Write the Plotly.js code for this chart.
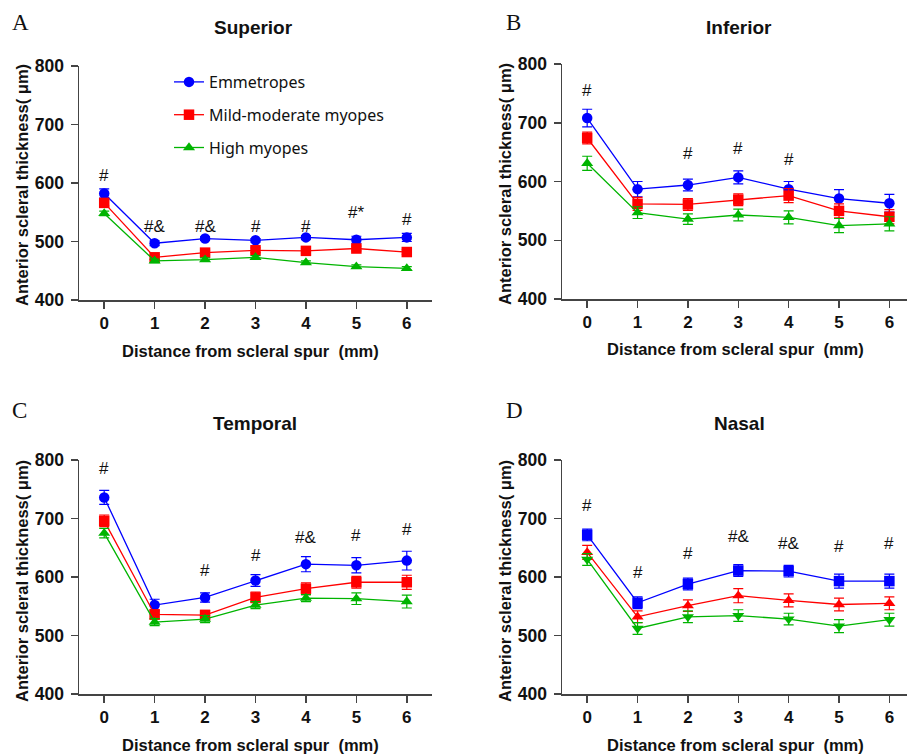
<!DOCTYPE html>
<html><head><meta charset="utf-8">
<script src="https://cdn.plot.ly/plotly-3.0.1.min.js"></script>
<style>body{margin:0;background:#fff}#plot{width:907px;height:755px}</style>
</head><body><div id="plot"></div>
<script>
// ---- data ----
const distance = [0, 1, 2, 3, 4, 5, 6];
const groupNames = ['Emmetropes', 'Mild-moderate myopes', 'High myopes'];

// Superior (A)
const supEmm = [582, 497, 505, 502, 507, 503, 507];
const supEmmErr = [8, 4, 3, 3, 3, 6, 7];
const supMild = [566, 473, 481, 485, 484, 488, 482];
const supMildErr = [5, 4, 4, 4, 4, 4, 4];
const supHigh = [548, 467, 469, 473, 464, 457, 454];
const supHighErr = [4, 3, 3, 3, 3, 3, 3];
const supSig = ['#', '#&', '#&', '#', '#', '#*', '#'];
const supSigY = [613, 525, 525, 525, 525, 550, 538];

// Inferior (B)
const infEmm = [708, 587, 594, 607, 587, 571, 563];
const infEmmErr = [15, 13, 10, 11, 13, 15, 15];
const infMild = [674, 562, 561, 569, 576, 550, 540];
const infMildErr = [10, 11, 10, 10, 12, 12, 12];
const infHigh = [631, 547, 536, 543, 539, 525, 528];
const infHighErr = [12, 10, 9, 10, 11, 12, 12];
const infSig = ['#', '', '#', '#', '#', '', ''];
const infSigY = [755, null, 647, 657, 638, null, null];

// Temporal (C)
const temEmm = [736, 552, 565, 594, 622, 620, 628];
const temEmmErr = [12, 10, 8, 10, 13, 13, 16];
const temMild = [696, 536, 535, 565, 580, 591, 591];
const temMildErr = [10, 8, 8, 9, 10, 10, 12];
const temHigh = [675, 523, 528, 552, 564, 563, 558];
const temHighErr = [8, 6, 6, 6, 6, 10, 11];
const temSig = ['#', '', '#', '#', '#&', '#', '#'];
const temSigY = [786, null, 611, 637, 668, 671, 682];

// Nasal (D)
const nasEmm = [672, 556, 588, 611, 610, 593, 593];
const nasEmmErr = [10, 10, 10, 10, 10, 12, 12];
const nasMild = [642, 532, 551, 568, 560, 553, 555];
const nasMildErr = [12, 10, 10, 12, 11, 11, 11];
const nasHigh = [630, 512, 532, 534, 528, 516, 527];
const nasHighErr = [10, 10, 10, 10, 10, 11, 11];
const nasSig = ['#', '#', '#', '#&', '#&', '#', '#'];
const nasSigY = [722, 608, 640, 670, 657, 652, 657];

const yTicks = [400, 500, 600, 700, 800];

// ---- styling ----
const colors = ['#0000ff', '#ff0000', '#00b400'];
const sans = 'Liberation Sans, Arial, sans-serif';
const axisColor = '#444';

function tr(y, err, gi, sym, xa, ya, show) {
  return {
    x: distance, y: y, type: 'scatter', mode: 'lines+markers',
    name: groupNames[gi], legendgroup: 'g' + gi, showlegend: show,
    xaxis: xa, yaxis: ya,
    line: {color: colors[gi], width: 1.3},
    marker: {color: colors[gi], symbol: sym, size: 10.5},
    error_y: {type: 'data', array: err, visible: true, color: colors[gi], thickness: 1.2, width: 5}
  };
}

const data = [
  tr(supEmm, supEmmErr, 0, 'circle', 'x', 'y', true),
  tr(supMild, supMildErr, 1, 'square', 'x', 'y', true),
  tr(supHigh, supHighErr, 2, 'triangle-up', 'x', 'y', true),
  tr(infEmm, infEmmErr, 0, 'circle', 'x2', 'y2', false),
  tr(infMild, infMildErr, 1, 'square', 'x2', 'y2', false),
  tr(infHigh, infHighErr, 2, 'triangle-up', 'x2', 'y2', false),
  tr(temEmm, temEmmErr, 0, 'circle', 'x3', 'y3', false),
  tr(temMild, temMildErr, 1, 'square', 'x3', 'y3', false),
  tr(temHigh, temHighErr, 2, 'triangle-up', 'x3', 'y3', false),
  tr(nasEmm, nasEmmErr, 0, 'square', 'x4', 'y4', false),
  tr(nasMild, nasMildErr, 1, 'triangle-up', 'x4', 'y4', false),
  tr(nasHigh, nasHighErr, 2, 'triangle-down', 'x4', 'y4', false)
];

const W = 907, H = 755;
function px(a, b) { return [a / W, b / W]; }
function py(top, bottom) { return [1 - bottom / H, 1 - top / H]; }

function xax(domain, range, anchor) {
  return {
    domain: domain, range: range, anchor: anchor,
    tickvals: distance, ticktext: distance.map(String),
    showgrid: false, zeroline: false, showline: true, linecolor: axisColor, linewidth: 1.5,
    ticks: 'outside', ticklen: 7, tickwidth: 1.5, tickcolor: axisColor,
    tickfont: {family: sans, size: 17, color: '#111', weight: 'bold'}
  };
}
function yax(domain, anchor) {
  return {
    domain: domain, range: [400, 800], anchor: anchor,
    tickvals: yTicks, ticktext: yTicks.map(String),
    showgrid: false, zeroline: false, showline: true, linecolor: axisColor, linewidth: 1.5,
    ticks: 'outside', ticklen: 7, tickwidth: 1.5, tickcolor: axisColor,
    ticklabelstandoff: 3,
    tickfont: {family: sans, size: 17.5, color: '#111', weight: 'bold'}
  };
}

const annotations = [];
function sig(labels, ys, xr, yr) {
  labels.forEach((t, i) => {
    if (!t) return;
    annotations.push({x: distance[i], y: ys[i], xref: xr, yref: yr, text: t, showarrow: false,
      font: {family: sans, size: 17, color: '#111'}});
  });
}
sig(supSig, supSigY, 'x', 'y');
sig(infSig, infSigY, 'x2', 'y2');
sig(temSig, temSigY, 'x3', 'y3');
sig(nasSig, nasSigY, 'x4', 'y4');

function paperText(text, xp, yp, font, angle) {
  annotations.push({x: xp / W, y: 1 - yp / H, xref: 'paper', yref: 'paper', text: text,
    showarrow: false, xanchor: 'center', yanchor: 'middle', font: font, textangle: angle || 0});
}
const titleFont = {family: sans, size: 19, color: '#111', weight: 'bold'};
const axTitleFont = {family: sans, size: 16.5, color: '#111', weight: 'bold'};
const letterFont = {family: 'Liberation Serif, Times New Roman, serif', size: 23, color: '#111'};
const xTitle = 'Distance from scleral spur\u00a0\u00a0(mm)';
const yTitle = 'Anterior scleral thickness( \u03bcm)';

paperText('Superior', 254, 27, titleFont);
paperText('Inferior', 739, 27, titleFont);
paperText('Temporal', 255, 423, titleFont);
paperText('Nasal', 739, 423, titleFont);
paperText('A', 20, 22, letterFont);
paperText('B', 513, 22, letterFont);
paperText('C', 19, 410, letterFont);
paperText('D', 514, 410, letterFont);
paperText(xTitle, 250, 351, axTitleFont);
paperText(xTitle, 735, 349, axTitleFont);
paperText(xTitle, 250, 745, axTitleFont);
paperText(xTitle, 735, 745, axTitleFont);
paperText(yTitle, 22, 185, axTitleFont, -90);
paperText(yTitle, 505, 184, axTitleFont, -90);
paperText(yTitle, 22, 581, axTitleFont, -90);
paperText(yTitle, 505, 581, axTitleFont, -90);

const layout = {
  width: W, height: H,
  margin: {l: 0, r: 0, t: 0, b: 0},
  paper_bgcolor: '#fff', plot_bgcolor: '#fff',
  showlegend: true,
  legend: {x: 169 / W, y: 1 - 65 / H, xanchor: 'left', yanchor: 'top',
    font: {family: 'Noto Sans, sans-serif', size: 16, color: '#111'},
    bgcolor: 'rgba(0,0,0,0)', traceorder: 'grouped', tracegroupgap: 9},
  xaxis: xax(px(79, 432), [-0.5, 6.5], 'y'),
  yaxis: yax(py(66, 300), 'x'),
  xaxis2: xax(px(562, 907), [-0.5, 6.35], 'y2'),
  yaxis2: yax(py(64, 299), 'x2'),
  xaxis3: xax(px(79, 432), [-0.5, 6.5], 'y3'),
  yaxis3: yax(py(460, 694), 'x3'),
  xaxis4: xax(px(562, 907), [-0.5, 6.35], 'y4'),
  yaxis4: yax(py(460, 694), 'x4'),
  annotations: annotations
};

Plotly.newPlot('plot', data, layout, {displayModeBar: false, staticPlot: true});
</script>
</body></html>
